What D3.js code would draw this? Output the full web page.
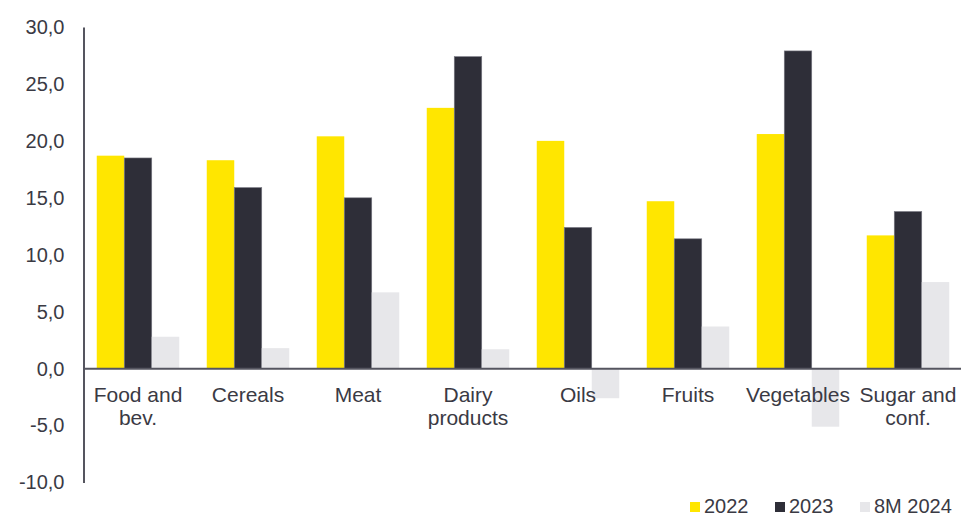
<!DOCTYPE html>
<html>
<head>
<meta charset="utf-8">
<script src="https://cdn.jsdelivr.net/npm/d3@7"></script>
<style>
  html, body { margin: 0; padding: 0; background: #fff; }
  svg { display: block; font-family: "Liberation Sans", Arial, sans-serif; }
</style>
</head>
<body>
<svg id="chart" width="961" height="517"></svg>
<script>
// Annual growth by food group, %
const categories = ["Food and bev.", "Cereals", "Meat", "Dairy products", "Oils", "Fruits", "Vegetables", "Sugar and conf."];
const categoryLines = [["Food and", "bev."], ["Cereals"], ["Meat"], ["Dairy", "products"], ["Oils"], ["Fruits"], ["Vegetables"], ["Sugar and", "conf."]];
const seriesNames = ["2022", "2023", "8M 2024"];
const values2022 = [18.7, 18.3, 20.4, 22.9, 20.0, 14.7, 20.6, 11.7];
const values2023 = [18.5, 15.9, 15.0, 27.4, 12.4, 11.4, 27.9, 13.8];
const values8M2024 = [2.8, 1.8, 6.7, 1.7, -2.6, 3.7, -5.1, 7.6];
const yTicks = [-10, -5, 0, 5, 10, 15, 20, 25, 30];

const seriesValues = [values2022, values2023, values8M2024];
const colors = ["#FFE600", "#2E2E38", "#E7E7EA"];
const textColor = "#3a3a44";
const axisColor = "#55555f";

const svg = d3.select("#chart");
const fontSize = 20;
const categoryFontSize = 21;

const x0 = d3.scaleBand()
  .domain(categories)
  .range([83, 963])
  .paddingInner(0.25)
  .paddingOuter(0.125);

const x1 = d3.scaleBand()
  .domain(seriesNames)
  .range([0, x0.bandwidth()]);

const y = d3.scaleLinear()
  .domain([-10, 30])
  .range([482.5, 27]);

const rows = categories.map((c, i) => ({
  category: c,
  items: seriesNames.map((s, j) => ({ series: s, value: seriesValues[j][i], color: colors[j] }))
}));

// Bars
const groups = svg.append("g").selectAll("g")
  .data(rows)
  .join("g")
  .attr("transform", d => `translate(${x0(d.category)},0)`);

groups.selectAll("rect")
  .data(d => d.items)
  .join("rect")
  .attr("x", d => x1(d.series))
  .attr("width", x1.bandwidth())
  .attr("y", d => y(Math.max(0, d.value)))
  .attr("height", d => Math.abs(y(d.value) - y(0)))
  .attr("fill", d => d.color)
  .attr("stroke", d => d.series === "2023" ? "#7c7c86" : "none")
  .attr("stroke-width", 0.6);

// Y axis
const yAxis = d3.axisLeft(y)
  .tickValues(yTicks)
  .tickSize(0)
  .tickPadding(19)
  .tickFormat(d => d3.format(".1f")(d).replace(".", ",").replace("−", "-"));

const yg = svg.append("g")
  .attr("transform", "translate(83.5,0)")
  .call(yAxis);
yg.select(".domain").attr("stroke", axisColor).attr("stroke-width", 2);
yg.selectAll("text")
  .attr("fill", textColor)
  .style("font-size", fontSize + "px")
  .style("font-family", "'Liberation Sans', Arial, sans-serif");

// Zero baseline
svg.append("line")
  .attr("x1", 83)
  .attr("x2", 961)
  .attr("y1", y(0))
  .attr("y2", y(0))
  .attr("stroke", axisColor)
  .attr("stroke-width", 2);

// Category labels
const labels = svg.append("g")
  .selectAll("text")
  .data(categories)
  .join("text")
  .attr("x", d => x0(d) + x0.bandwidth() / 2)
  .attr("y", 402)
  .attr("text-anchor", "middle")
  .attr("fill", textColor)
  .style("font-size", categoryFontSize + "px");

labels.selectAll("tspan")
  .data((d, i) => categoryLines[i])
  .join("tspan")
  .attr("x", function () { return d3.select(this.parentNode).attr("x"); })
  .attr("dy", (d, i) => i === 0 ? 0 : 23)
  .text(d => d);

// Legend
const legendX = [690, 775, 860];
const legend = svg.append("g")
  .selectAll("g")
  .data(seriesNames)
  .join("g")
  .attr("transform", (d, i) => `translate(${legendX[i]},0)`);

legend.append("rect")
  .attr("x", 0)
  .attr("y", 502)
  .attr("width", 10)
  .attr("height", 10)
  .attr("fill", (d, i) => colors[i]);

legend.append("text")
  .attr("x", 14)
  .attr("y", 513)
  .attr("fill", textColor)
  .style("font-size", fontSize + "px")
  .text(d => d);
</script>
</body>
</html>
